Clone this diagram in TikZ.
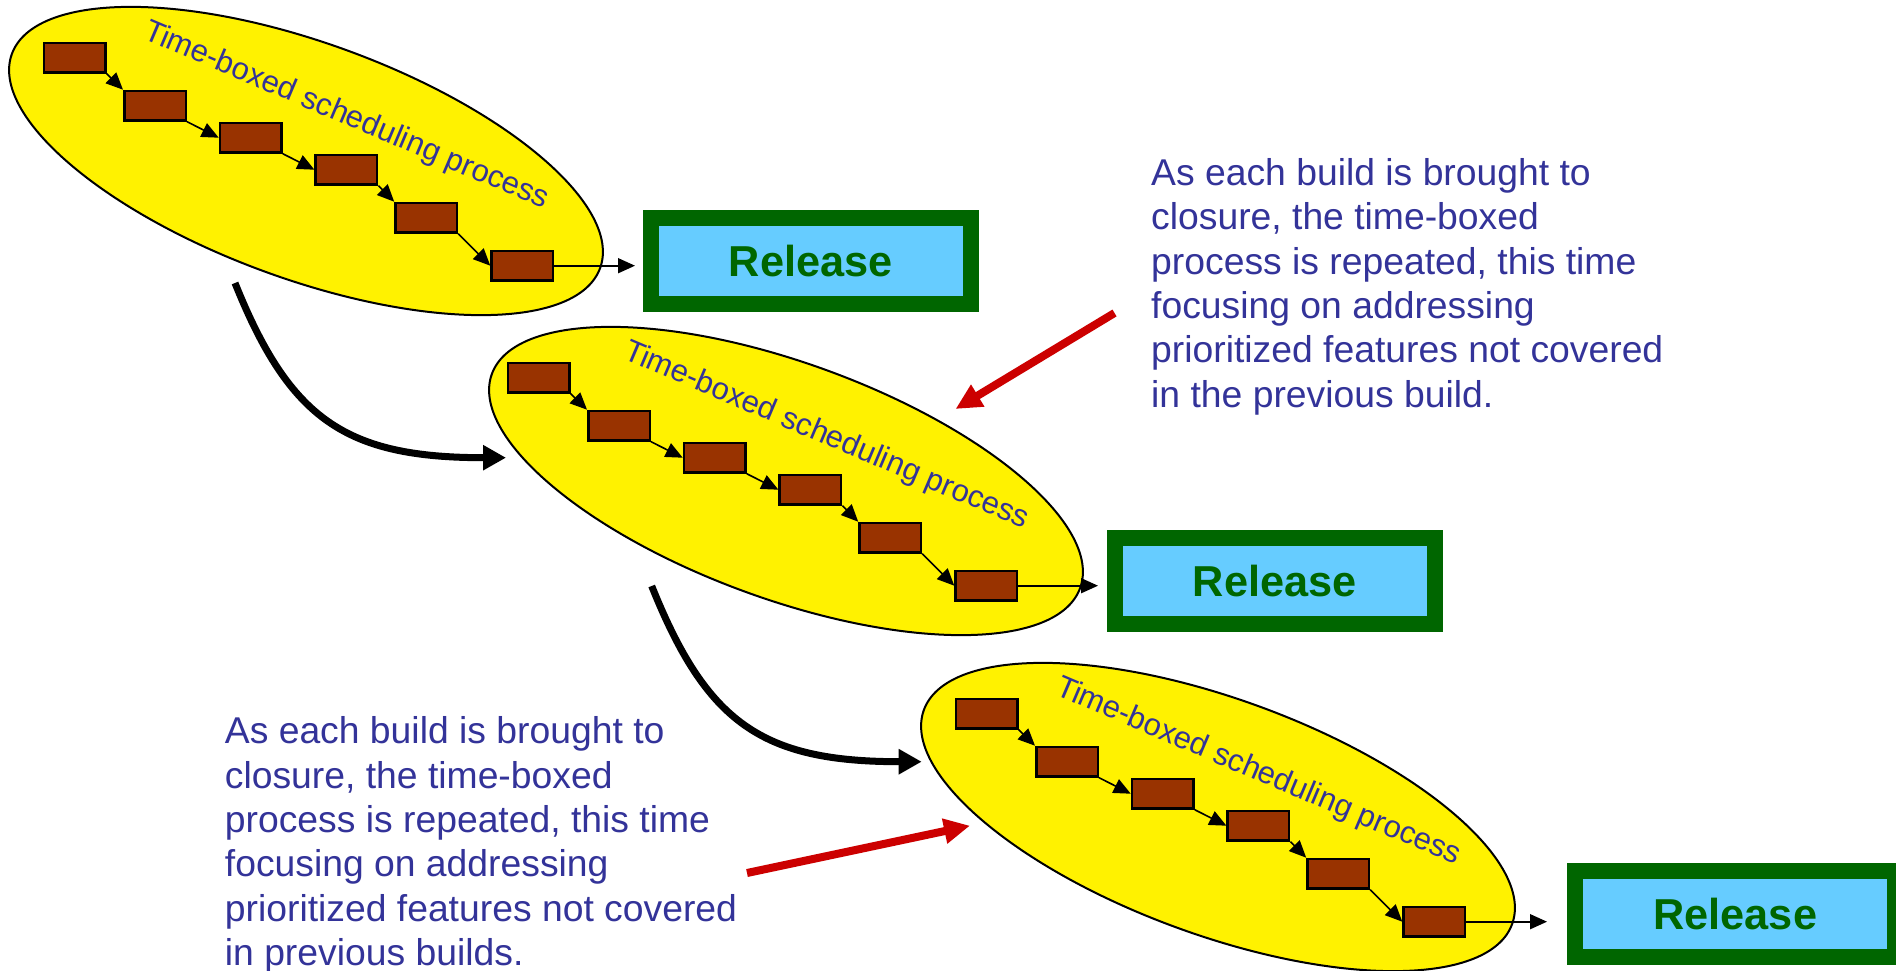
\documentclass[tikz,border=0pt]{standalone}
\usepackage{fontspec}
\setmainfont{Liberation Sans}
\usetikzlibrary{shapes.geometric,arrows.meta}
\definecolor{navytext}{HTML}{333399}
\definecolor{stepbrown}{HTML}{993300}
\definecolor{relgreen}{HTML}{006600}
\definecolor{relblue}{HTML}{66CCFF}
\definecolor{arrowred}{HTML}{CC0000}
\begin{document}
\begin{tikzpicture}[x=1pt,y=-1pt,
  buildloop/.style={ellipse, draw=black, line width=2pt, fill=yellow,
    minimum width=626pt, minimum height=236pt, inner sep=0pt, rotate=-20},
  looplabel/.style={text=navytext, font=\fontsize{31}{37}\selectfont,
    rotate=-23, anchor=base, inner sep=0pt},
  stepcell/.style={draw=black, line width=2.5pt, fill=stepbrown,
    minimum width=61.5pt, minimum height=29.5pt, inner sep=0pt},
  flow/.style={line width=1.6pt, -{Triangle[length=17pt,width=15pt]}},
  release/.style={draw=relgreen, line width=16pt, fill=relblue,
    minimum width=320pt, minimum height=86pt, inner sep=0pt, text=relgreen,
    font=\fontsize{43.3}{50}\selectfont\bfseries},
  note/.style={text=navytext, font=\fontsize{37.3}{44.3}\selectfont,
    align=left, anchor=north west, inner sep=0pt},
  nextbuild/.style={line width=7pt, -{Triangle[length=23pt,width=24pt]}},
  pointer/.style={draw=arrowred, line width=8pt, -{Triangle[length=26pt,width=24pt]}}
]
\clip (0,0) rectangle (1896,971);
\fill[white] (0,0) rectangle (1896,971);

% three builds: box offset (bx,by), loop offset (ex,ey)
\foreach \g/\bx/\by/\ex/\ey in {1/0/0/0/0, 2/464/320/480/320, 3/912/656/912/656}{
  \node[buildloop] (E\g) at (306+\ex,161+\ey) {};
  \node[looplabel] (T\g) at (343+\ex,123.5+\ey) {Time-boxed scheduling process};
  \foreach \i/\x/\y in {1/74.7/57.7, 2/155/105.7, 3/250.7/137.7,
                        4/346.4/169.7, 5/426.2/217.7, 6/522.3/265.7}
    \node[stepcell] (b\g\i) at (\x+\bx,\y+\by) {};
  \draw[flow] (b\g1.south east) -- (b\g2.north west);
  \draw[flow] (b\g2.south east) -- (b\g3.west);
  \draw[flow] (b\g3.south east) -- (b\g4.west);
  \draw[flow] (b\g4.south east) -- (b\g5.north west);
  \draw[flow] (b\g5.south east) -- (b\g6.west);
}

% release boxes
\node[release] (r1) at (810.7,261) {Release};
\node[release] (r2) at (1274.7,580.8) {Release};
\node[release] (r3) at (1735.3,913.6) {Release};

\draw[flow, shorten >=7.7pt] (b16.east) -- (b16.east -| r1.west);
\draw[flow, shorten >=8.7pt] (b26.east) -- (b26.east -| r2.west);
\draw[flow, shorten >=20.3pt] (b36.east) -- (b36.east -| r3.west);

% hand-over from one build to the next
\coordinate (a1s) at (235,283);
\coordinate (a1e) at (506,457.7);
\coordinate (a2s) at (651.7,586);
\coordinate (a2e) at (921.7,761.7);
\draw[nextbuild] (a1s) .. controls +(55,137) and +(-160,0) .. (a1e);
\draw[nextbuild] (a2s) .. controls +(55,137) and +(-160,0) .. (a2e);

% notes
\node[note] (n1) at (1151,158.3) {As each build is brought to\\closure, the time-boxed\\process is repeated, this time\\focusing on addressing\\prioritized features not covered\\in the previous build.};
\node[note] (n2) at (224.7,716.6) {As each build is brought to\\closure, the time-boxed\\process is repeated, this time\\focusing on addressing\\prioritized features not covered\\in previous builds.};

\coordinate (p1s) at (1114.5,313);
\coordinate (p1e) at (955.5,409);
\coordinate (p2s) at (747,873);
\coordinate (p2e) at (970,825.7);
\draw[pointer] (p1s) -- (p1e);
\draw[pointer] (p2s) -- (p2e);
\end{tikzpicture}
\end{document}
